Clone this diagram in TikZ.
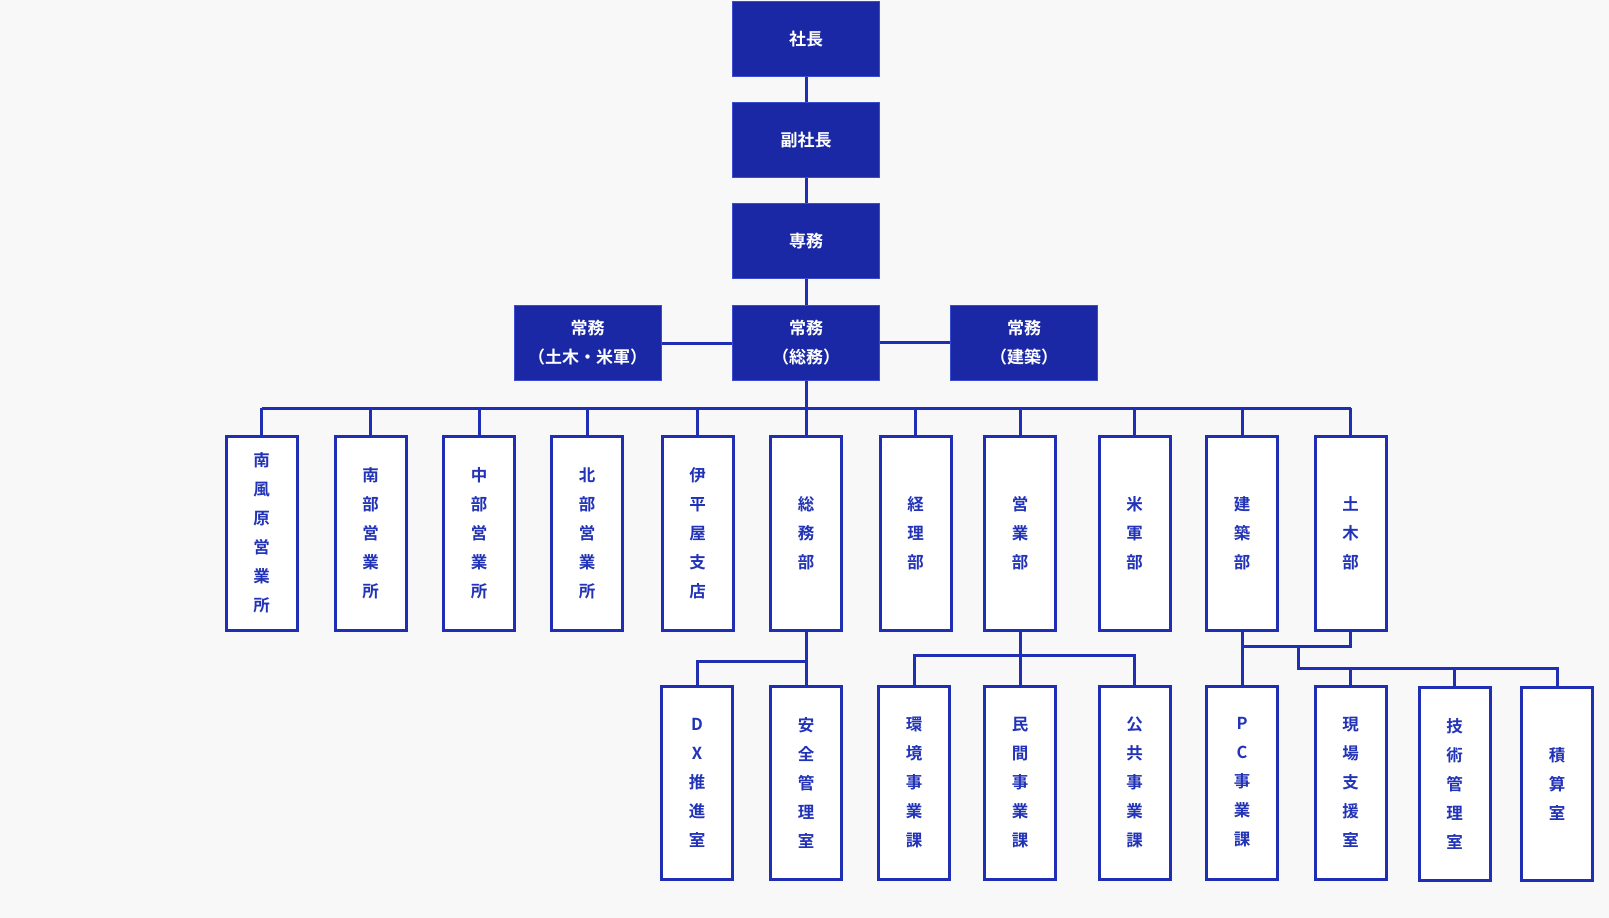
\documentclass[tikz,border=0pt]{standalone}
\usepackage{fontspec}
\setmainfont{Noto Sans CJK JP}[BoldFont={Noto Sans CJK JP Bold}]
\definecolor{bg}{HTML}{F8F8F8}
\definecolor{topfill}{HTML}{1A28A5}
\definecolor{topline}{HTML}{3A4CD0}
\definecolor{lineblue}{HTML}{1F2EB3}
\definecolor{txtblue}{HTML}{2233B8}
\begin{document}
\begin{tikzpicture}[x=1pt,y=-1pt,
  topbox/.style={draw=topline, line width=1pt, fill=topfill, text=white,
    minimum width=147pt, minimum height=75pt, inner sep=0pt,
    font=\bfseries\fontsize{17}{29}\selectfont, align=center},
  unitbox/.style={draw=lineblue, line width=3pt, fill=white, text=txtblue,
    minimum width=71pt, inner sep=0pt,
    font=\bfseries\fontsize{16.5}{29}\selectfont, align=center},
  rowa/.style={unitbox, minimum height=194pt},
  rowb/.style={unitbox, minimum height=193pt},
  conn/.style={draw=lineblue, line width=3pt}]
\fill[bg] (0,0) rectangle (1609,918);
\useasboundingbox (0,0) rectangle (1609,918);
% top boxes
\node[topbox] (ceo) at (806,39) {社長};
\node[topbox] (vp) at (806,140) {副社長};
\node[topbox] (sen) at (806,241) {専務};
\node[topbox] (js) at (806,342.5) {常務\\（総務）};
\node[topbox] (jd) at (587.5,343) {常務\\（土木・米軍）};
\node[topbox] (jk) at (1024,342.5) {常務\\（建築）};
% row 1
\node[rowa] (r1a) at (261.5,533) {南\\風\\原\\営\\業\\所};
\node[rowa] (r1b) at (370.5,533) {南\\部\\営\\業\\所};
\node[rowa] (r1c) at (479,533) {中\\部\\営\\業\\所};
\node[rowa] (r1d) at (587,533) {北\\部\\営\\業\\所};
\node[rowa] (r1e) at (697.5,533) {伊\\平\\屋\\支\\店};
\node[rowa] (r1f) at (806,533) {総\\務\\部};
\node[rowa] (r1g) at (915.5,533) {経\\理\\部};
\node[rowa] (r1h) at (1020,533) {営\\業\\部};
\node[rowa] (r1i) at (1134.5,533) {米\\軍\\部};
\node[rowa] (r1j) at (1242,533) {建\\築\\部};
\node[rowa] (r1k) at (1350.5,533) {土\\木\\部};
% row 2
\node[rowb] (r2a) at (697,782.5) {D\\X\\推\\進\\室};
\node[rowb] (r2b) at (806,782.5) {安\\全\\管\\理\\室};
\node[rowb] (r2c) at (914,782.5) {環\\境\\事\\業\\課};
\node[rowb] (r2d) at (1020,782.5) {民\\間\\事\\業\\課};
\node[rowb] (r2e) at (1134.5,782.5) {公\\共\\事\\業\\課};
\node[rowb] (r2f) at (1242,782.5) {P\\C\\事\\業\\課};
\node[rowb] (r2g) at (1350.5,782.5) {現\\場\\支\\援\\室};
\node[rowb] (r2h) at (1454.5,784) {技\\術\\管\\理\\室};
\node[rowb] (r2i) at (1557,784) {積\\算\\室};
% coordinates
\coordinate (bus) at (0,408);
\coordinate (h1) at (0,661);
\coordinate (h2) at (0,655);
\coordinate (h3) at (0,646);
\coordinate (h4) at (0,668);
\coordinate (br) at (1298,646);
% spine
\path[conn] (ceo.south) -- (vp.north);
\path[conn] (vp.south) -- (sen.north);
\path[conn] (sen.south) -- (js.north);
\path[conn] (jd.east) -- (jd.east -| js.west);
\path[conn] (js.east) -- (jk.west);
\path[conn] (js.south) -- (r1f.north);
\path[conn] (r1a.north |- bus) -- (r1k.north |- bus);
\foreach \n in {r1a,r1b,r1c,r1d,r1e,r1g,r1h,r1i,r1j,r1k}
  \path[conn] (\n.north |- bus) -- (\n.north);
% 総務部
\path[conn] (r1f.south) -- (r2b.north);
\path[conn] (r2a.north) -- (r2a.north |- h1) -- (r2b.north |- h1);
% 営業部
\path[conn] (r1h.south) -- (r2d.north);
\path[conn] (r2c.north) -- (r2c.north |- h2) -- (r2e.north |- h2) -- (r2e.north);
% 建築部・土木部
\path[conn] (r1j.south) -- (r2f.north);
\path[conn] (r1j.south |- h3) -- (r1k.south |- h3) -- (r1k.south);
\path[conn] (br) -- (br |- h4) -- (r2i.north |- h4) -- (r2i.north);
\path[conn] (r2g.north |- h4) -- (r2g.north);
\path[conn] (r2h.north |- h4) -- (r2h.north);
\end{tikzpicture}
\end{document}
